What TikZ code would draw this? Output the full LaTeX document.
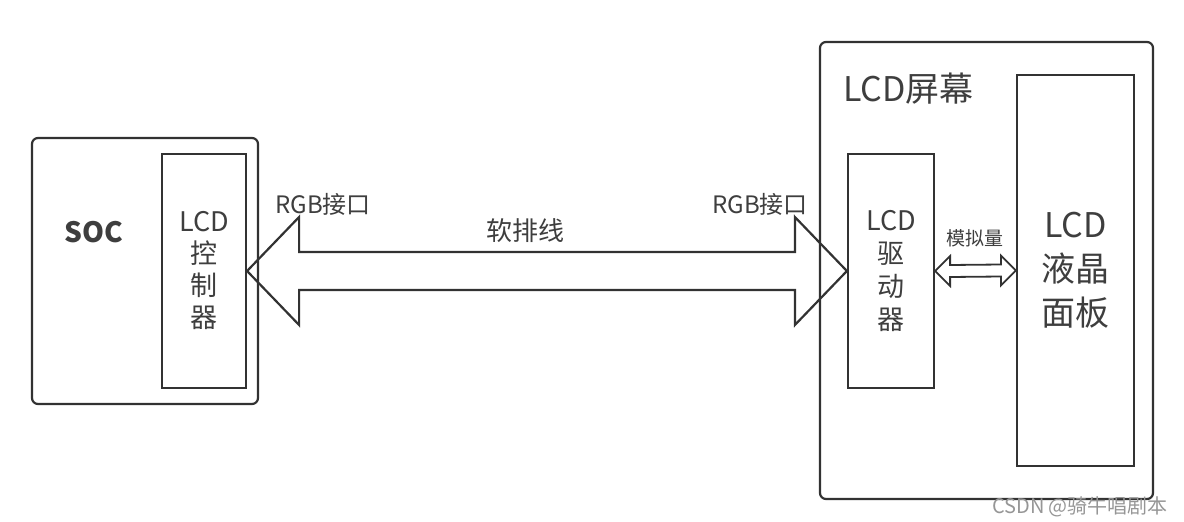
\documentclass[tikz,border=0pt]{standalone}
\usepackage{fontspec}
\setmainfont{Noto Sans CJK SC}
\usetikzlibrary{calc,positioning}
\definecolor{LineGray}{RGB}{50,50,50}
\definecolor{TextGray}{RGB}{62,62,62}
\definecolor{MarkGray}{RGB}{150,150,150}

% hollow double arrow between two anchors: #1,#2 ends, #3 head length, #4 head half, #5 shaft half
\newcommand{\fatarrow}[5]{
\draw[LineGray,line join=miter] (#1) -- ($(#1)+(#3,-#4)$) -- ($(#1)+(#3,-#5)$) -- ($(#2)+(-#3,-#5)$) -- ($(#2)+(-#3,-#4)$)
  -- (#2) -- ($(#2)+(-#3,#4)$) -- ($(#2)+(-#3,#5)$) -- ($(#1)+(#3,#5)$) -- ($(#1)+(#3,#4)$) -- cycle;}

\begin{document}
\begin{tikzpicture}[x=1pt,y=-1pt,
  box/.style={draw=LineGray,line width=2.2pt,inner sep=0pt,text=TextGray,align=center},
  outer/.style={box,rounded corners=6pt},
  txt/.style={text=TextGray,inner sep=0pt}]
\useasboundingbox (0,0) rectangle (1184,522);
% boxes
\node[outer,minimum width=226,minimum height=266] (soc) at (145,271) {};
\node[box,minimum width=84,minimum height=234,font=\fontsize{27}{32}\selectfont] (ctrl) at (204,271) {LCD\\控\\制\\器};
\node[outer,minimum width=333,minimum height=457] (screen) at (986.5,270.5) {};
\node[box,minimum width=86,minimum height=234,font=\fontsize{27}{33}\selectfont] (drv) at (891,271) {LCD\\驱\\动\\器};
\node[box,minimum width=117,minimum height=391,font=\fontsize{34}{44}\selectfont] (panel) at (1075.5,270.5) {LCD\\液晶\\面板};
% labels
\node[txt,font=\fontsize{28}{28}\selectfont\bfseries] (socLbl) at (94,232) {SOC};
\node[txt,anchor=west,font=\fontsize{34}{34}\selectfont] (scrLbl) at (843,89) {LCD屏幕};
\node[txt,font=\fontsize{24}{24}\selectfont] (rgbL) at (323,204) {RGB接口};
\node[txt,font=\fontsize{24}{24}\selectfont] (rgbR) at (760,204) {RGB接口};
\node[txt,font=\fontsize{26}{26}\selectfont] (cable) at (525,231) {软排线};
\node[txt,font=\fontsize{19}{19}\selectfont] (analog) at (975,238) {模拟量};
\node[text=MarkGray,inner sep=0pt,font=\fontsize{20}{20}\selectfont] (mark) at (1080,507) {CSDN @骑牛唱剧本};
% arrows
\begin{scope}[line width=2.2pt]
\fatarrow{ctrl.east}{drv.west}{52}{54}{19}
\end{scope}
\begin{scope}[line width=1.8pt]
\fatarrow{drv.east}{panel.west}{15}{15}{6}
\end{scope}
\end{tikzpicture}
\end{document}
